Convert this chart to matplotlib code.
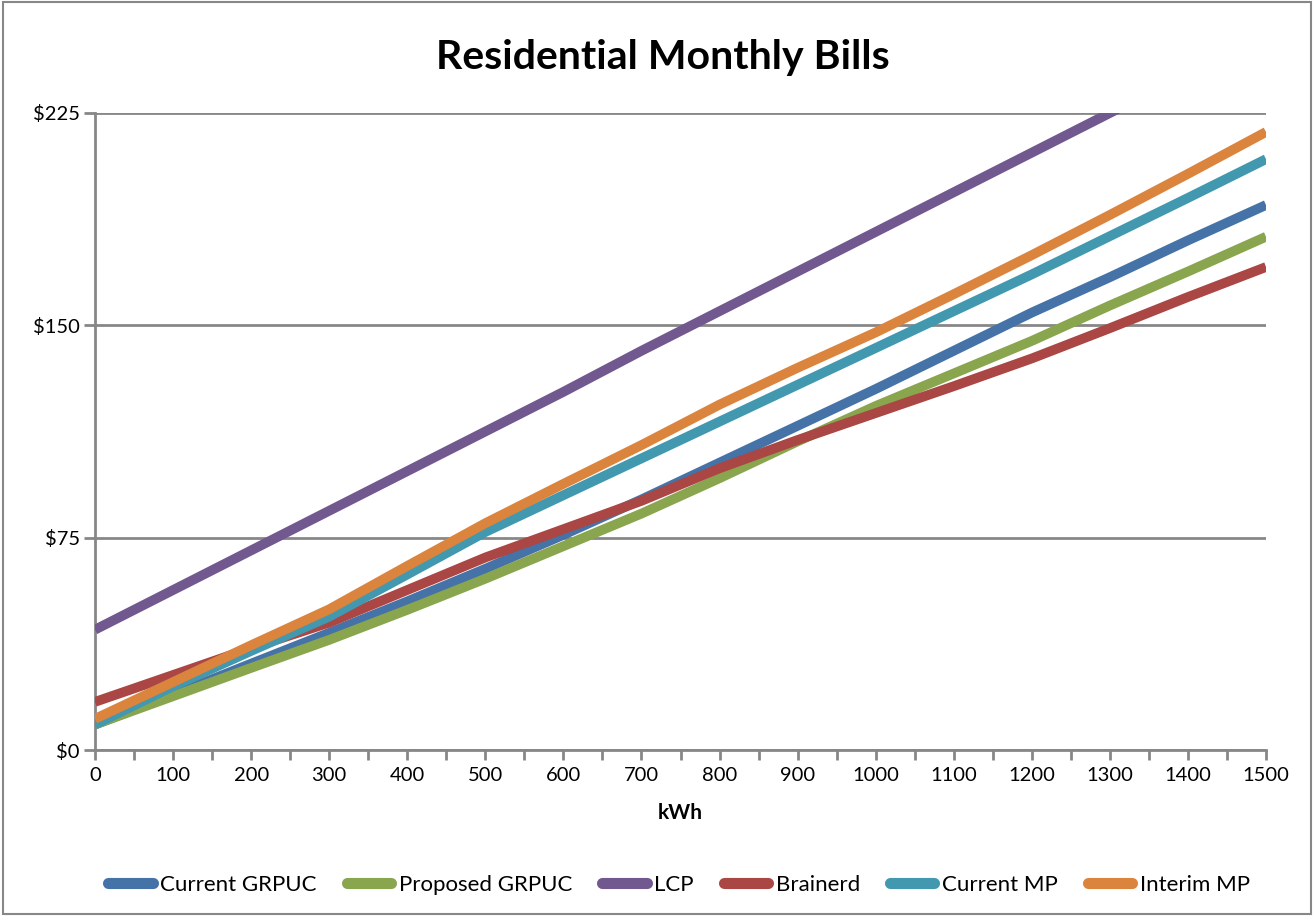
import matplotlib
matplotlib.use("Agg")
import matplotlib.pyplot as plt
from matplotlib.patches import Rectangle
from matplotlib.ticker import MultipleLocator, FuncFormatter

plt.rcParams['font.family'] = ['Lato', 'DejaVu Sans']

kwh = [0, 100, 200, 300, 400, 500, 600, 700, 800, 900, 1000, 1100, 1200, 1300, 1400, 1500]
current_grpuc = [9, 19.5, 30.5, 41.4, 52.5, 64, 76, 88.5, 101.5, 114.5, 127.5, 141, 154.5, 167, 180, 192.5]
proposed_grpuc = [9, 19, 29, 38.9, 49.5, 60.5, 72, 83.5, 96, 109, 121.5, 133, 144.5, 157, 169, 181.3]
lcp = [42.5, 56.5, 70.5, 84.5, 98.5, 112.5, 126.5, 141, 155, 169, 183, 197, 211, 225, 239, 253]
brainerd = [17, 26.5, 36, 45, 56.5, 68, 78, 88, 99.5, 109.5, 119, 128.5, 138.3, 149, 160, 170.6]
current_mp = [9, 22.5, 35, 47.1, 62, 77, 90, 103, 116, 129, 142, 155, 168, 181.5, 195, 208.7]
interim_mp = [11, 24, 37, 49.7, 65, 80.1, 94, 107.7, 122, 135, 147.5, 161, 174.8, 189, 203.5, 218.3]

series = [
    ("Current GRPUC", current_grpuc, "#4572A7"),
    ("Proposed GRPUC", proposed_grpuc, "#89A54E"),
    ("LCP", lcp, "#71588F"),
    ("Brainerd", brainerd, "#AA4643"),
    ("Current MP", current_mp, "#4198AF"),
    ("Interim MP", interim_mp, "#DB843D"),
]

fig = plt.figure(figsize=(13.14, 9.16), dpi=100)
ax = fig.add_axes([95/1314, 1-750/916, (1266-95)/1314, (750-113)/916])

for name, vals, col in series:
    ax.plot(kwh, vals, color=col, lw=7, label=name, solid_capstyle='butt',
            solid_joinstyle='round', zorder=3)

ax.set_xlim(0, 1500)
ax.set_ylim(0, 225)
ax.xaxis.set_major_locator(MultipleLocator(100))
ax.xaxis.set_minor_locator(MultipleLocator(50))
ax.yaxis.set_major_locator(MultipleLocator(75))
ax.yaxis.set_major_formatter(FuncFormatter(lambda v, p: f"${v:.0f}"))
ax.grid(axis='y', color='#878787', lw=2, zorder=1)
for s in ['top', 'right']:
    ax.spines[s].set_visible(False)
for s in ['left', 'bottom']:
    ax.spines[s].set_color('#878787')
    ax.spines[s].set_linewidth(2)
ax.tick_params(axis='both', which='both', direction='out', color='#878787', width=2)
ax.tick_params(axis='x', which='major', length=7, labelsize=14.5, pad=5)
ax.tick_params(axis='x', which='minor', length=7)
ax.tick_params(axis='y', which='major', length=8, labelsize=14.5, pad=3)
ax.set_xlabel("kWh", fontsize=15, fontweight='bold', labelpad=14)

fig.text(663/1314, 1-58/916, "Residential Monthly Bills", ha='center', va='center',
         fontsize=29.5, fontweight='bold')

leg = fig.legend(loc='center', bbox_to_anchor=(679/1314, 1-885/916), ncol=6, frameon=False,
                 fontsize=16, handlelength=2.0, columnspacing=1.35, handletextpad=0.34)
for h in leg.get_lines():
    h.set_linewidth(8)
    h.set_solid_capstyle('round')

fig.patches.append(Rectangle((0.002, 0.002), 0.996, 0.996, transform=fig.transFigure,
                             fill=False, edgecolor='#878787', lw=1.5))

fig.savefig("out.png", dpi=100)
